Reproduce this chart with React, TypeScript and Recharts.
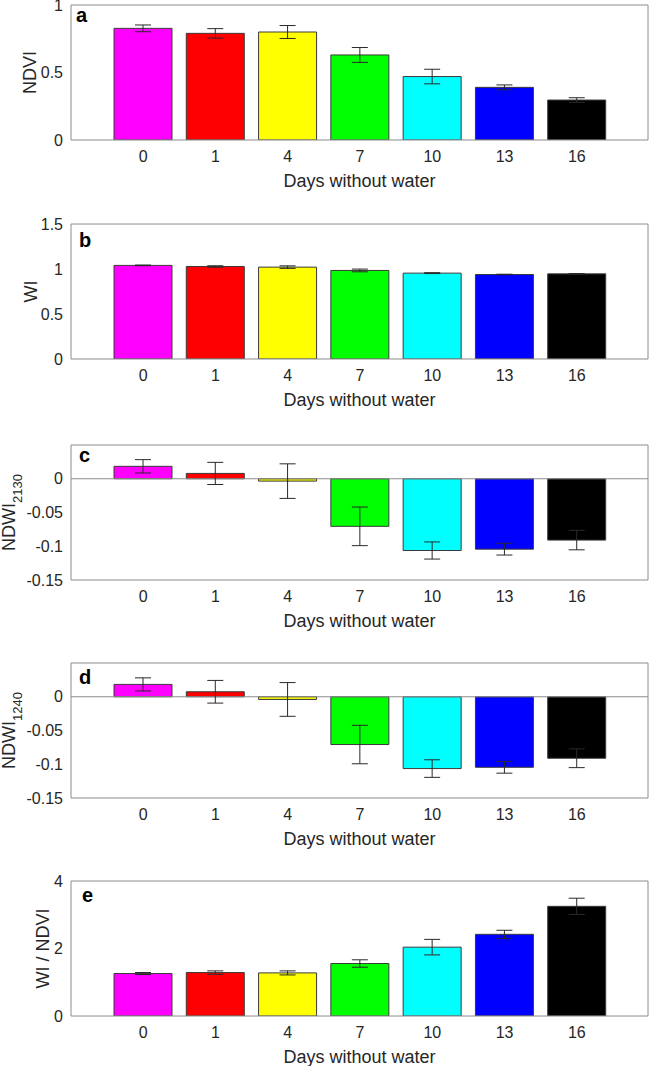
import React from "react";
import {
  BarChart,
  Bar,
  XAxis,
  YAxis,
  Cell,
  ErrorBar,
  ReferenceLine,
} from "recharts";

// days without water (x categories) and bar colours
const days = ["0", "1", "4", "7", "10", "13", "16"];
const barColors = ["#ff00ff", "#ff0000", "#ffff00", "#00ff00", "#00ffff", "#0000ff", "#000000"];

// a) NDVI
const ndvi = [0.827, 0.79, 0.8, 0.63, 0.47, 0.39, 0.296];
const ndviErr = [0.025, 0.035, 0.048, 0.055, 0.054, 0.018, 0.017];

// b) WI
const wi = [1.04, 1.028, 1.021, 0.984, 0.954, 0.939, 0.946];
const wiErr = [0.004, 0.008, 0.014, 0.015, 0.005, 0.003, 0.004];

// c) NDWI 2130
const ndwi2130 = [0.0184, 0.0079, -0.0035, -0.0705, -0.1063, -0.1043, -0.0909];
const ndwi2130Err = [0.0099, 0.0164, 0.0256, 0.0286, 0.0127, 0.0087, 0.0144];

// d) NDWI 1240
const ndwi1240 = [0.0183, 0.0074, -0.004, -0.0708, -0.1064, -0.1045, -0.0911];
const ndwi1240Err = [0.0097, 0.0168, 0.025, 0.0285, 0.013, 0.0087, 0.0139];

// e) WI / NDVI
const wiNdvi = [1.258, 1.287, 1.277, 1.555, 2.04, 2.42, 3.25];
const wiNdviErr = [0.03, 0.05, 0.06, 0.11, 0.23, 0.12, 0.24];

// y tick labels per panel
const ticksA = [0, 0.5, 1];
const ticksB = [0, 0.5, 1, 1.5];
const ticksNdwi = [-0.15, -0.1, -0.05, 0];
const ticksE = [0, 2, 4];

const FONT = '"Liberation Sans", Arial, Helvetica, sans-serif';
const TXT = "#262626";
const BOX = "#8c8c8c";
const EDGE = "#3a3a3a";
const PAD = { left: 36, right: 35 };
const MTOP = 15;

type PanelProps = {
  top: number;
  values: number[];
  errs: number[];
  domain: [number, number];
  ticks: number[];
  letter: string;
  label: string;
  sub?: string;
  labelX: number;
  letterDx: number;
  letterY: number;
  zero?: boolean;
};

function Panel(p: PanelProps) {
  const rows = days.map((d, i) => ({ day: d, v: p.values[i], err: p.errs[i] }));

  const sideText = (props: any) => {
    const vb = props.viewBox || { x: 0, y: MTOP, width: 71, height: 135 };
    const cy = vb.y + vb.height / 2;
    return (
      <g>
        <text
          x={p.labelX}
          y={cy}
          transform={`rotate(-90 ${p.labelX} ${cy})`}
          textAnchor="middle"
          fontSize={18}
          fill={TXT}
          fontFamily={FONT}
        >
          {p.label}
          {p.sub && (
            <tspan dy={7} fontSize={13}>
              {p.sub}
            </tspan>
          )}
        </text>
        <text
          x={vb.x + vb.width + p.letterDx}
          y={vb.y + p.letterY}
          fontSize={20}
          fontWeight="bold"
          fill="#000"
          fontFamily={FONT}
        >
          {p.letter}
        </text>
      </g>
    );
  };

  return (
    <div style={{ position: "absolute", left: 0, top: p.top - MTOP }}>
      <BarChart
        width={649}
        height={214 + MTOP}
        data={rows}
        margin={{ top: MTOP, right: 1, left: 0, bottom: 0 }}
      >
        <XAxis
          xAxisId="b"
          dataKey="day"
          height={79}
          padding={PAD}
          interval={0}
          tickLine={false}
          tickMargin={5}
          axisLine={{ stroke: BOX }}
          tick={{ fontSize: 16, fill: TXT, fontFamily: FONT }}
          label={{
            value: "Days without water",
            position: "insideBottom",
            offset: 32.5,
            fontSize: 18,
            fill: TXT,
            fontFamily: FONT,
          }}
        />
        <XAxis
          xAxisId="bm"
          dataKey="day"
          mirror
          height={10}
          padding={PAD}
          interval={0}
          tick={false}
          tickSize={5}
          tickLine={{ stroke: BOX }}
          axisLine={false}
        />
        <XAxis
          xAxisId="t"
          orientation="top"
          dataKey="day"
          mirror
          height={10}
          padding={PAD}
          interval={0}
          tick={false}
          tickSize={5}
          tickLine={{ stroke: BOX }}
          axisLine={{ stroke: BOX }}
        />
        <YAxis
          yAxisId="l"
          type="number"
          width={71}
          domain={p.domain}
          ticks={p.ticks}
          interval={0}
          allowDataOverflow
          tickLine={false}
          axisLine={{ stroke: BOX }}
          tick={{ fontSize: 16, fill: TXT, fontFamily: FONT }}
          label={{ content: sideText }}
        />
        <YAxis
          yAxisId="lm"
          type="number"
          mirror
          width={10}
          domain={p.domain}
          ticks={p.ticks}
          interval={0}
          allowDataOverflow
          tick={false}
          tickSize={5}
          tickLine={{ stroke: BOX }}
          axisLine={false}
        />
        <YAxis
          yAxisId="r"
          orientation="right"
          type="number"
          mirror
          width={10}
          domain={p.domain}
          ticks={p.ticks}
          interval={0}
          allowDataOverflow
          tick={false}
          tickSize={5}
          tickLine={{ stroke: BOX }}
          axisLine={{ stroke: BOX }}
        />
        {p.zero && <ReferenceLine xAxisId="b" yAxisId="l" y={0} stroke={BOX} />}
        <Bar
          xAxisId="b"
          yAxisId="l"
          dataKey="v"
          barSize={58}
          stroke={EDGE}
          strokeWidth={1}
          isAnimationActive={false}
        >
          {rows.map((_, i) => (
            <Cell key={i} fill={barColors[i]} />
          ))}
          <ErrorBar dataKey="err" width={8} stroke="#2a2a2a" strokeWidth={1} isAnimationActive={false} />
        </Bar>
      </BarChart>
    </div>
  );
}

export default function App() {
  return (
    <div
      style={{
        position: "absolute",
        left: 0,
        top: 0,
        width: 649,
        height: 1066,
        overflow: "hidden",
        background: "#fff",
      }}
    >
      <Panel top={5} values={ndvi} errs={ndviErr} domain={[0, 1]} ticks={ticksA}
        letter="a" label="NDVI" labelX={36} letterDx={5} letterY={17} />
      <Panel top={224} values={wi} errs={wiErr} domain={[0, 1.5]} ticks={ticksB}
        letter="b" label="WI" labelX={37} letterDx={8} letterY={23} />
      <Panel top={445} values={ndwi2130} errs={ndwi2130Err} domain={[-0.15, 0.05]} ticks={ticksNdwi}
        letter="c" label="NDWI" sub="2130" labelX={15} letterDx={8} letterY={17} zero />
      <Panel top={663} values={ndwi1240} errs={ndwi1240Err} domain={[-0.15, 0.05]} ticks={ticksNdwi}
        letter="d" label="NDWI" sub="1240" labelX={15} letterDx={8} letterY={21} zero />
      <Panel top={881} values={wiNdvi} errs={wiNdviErr} domain={[0, 4]} ticks={ticksE}
        letter="e" label="WI / NDVI" labelX={49} letterDx={11} letterY={21} />
    </div>
  );
}
